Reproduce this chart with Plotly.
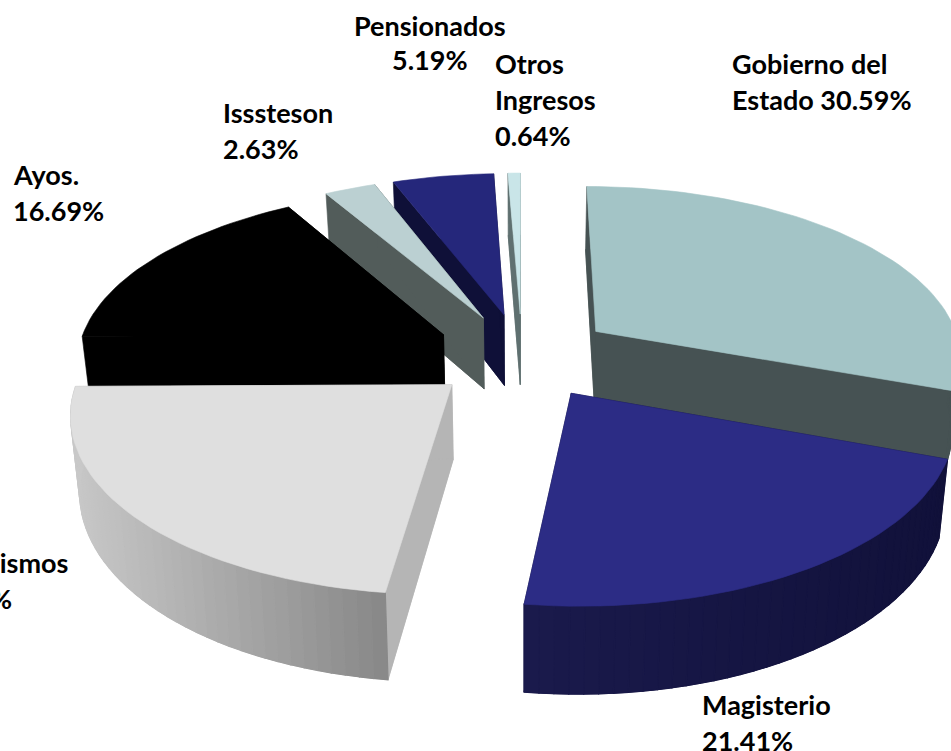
import math
import plotly.graph_objects as go

# --- data -----------------------------------------------------------------
categories = ["Gobierno del Estado", "Magisterio", "Organismos", "Ayos.",
              "Isssteson", "Pensionados", "Otros Ingresos"]
values = [30.59, 21.41, 22.85, 16.69, 2.63, 5.19, 0.64]

top_colors = ["#A3C4C6", "#2C2C85", "#DFDFDF", "#000000", "#BBD0D2", "#25277B", "#C9E5E8"]
wall_colors = ["#465253", "#141438", "#B5B5B5", "#000000", "#525C5A", "#0F1038", "#5F7070"]
# front wall gradient (left -> right), per slice
grad_left = ["#465253", "#1A1A4C", "#C8C8C8", "#000000", "#525C5A", "#0F1038", "#5F7070"]
grad_right = ["#465253", "#11113A", "#888888", "#000000", "#525C5A", "#0F1038", "#5F7070"]

# label lines: (slice index, line text template, anchor, x px, y px)
label_lines = [
    (0, "Gobierno del", "left", 730, 63),
    (0, "Estado {v:.2f}%", "left", 730, 99),
    (1, "Magisterio", "left", 700, 704),
    (1, "{v:.2f}%", "left", 700, 740),
    (2, "Organismos", "right", 70, 562),
    (2, "{v:.2f}%", "right", 14, 598),
    (3, "Ayos.", "left", 11, 174),
    (3, "{v:.2f}%", "left", 11, 210),
    (4, "Isssteson", "left", 221, 113),
    (4, "{v:.2f}%", "left", 221, 149),
    (5, "Pensionados", "center", 430, 26),
    (5, "{v:.2f}%", "center", 430, 59),
    (6, "Otros", "left", 493, 63),
    (6, "Ingresos", "left", 493, 99),
    (6, "{v:.2f}%", "left", 493, 135),
]

# --- projection parameters ------------------------------------------------
CX, CY, RX, RY = 522.0, 355.5, 367.0, 171.5
PERSP, EXPLODE, DEPTH, SHRINK = 0.14, 0.25, 73.0, 0.98
STEP_DEG = 2.0
FONT = "Lato"
FONT_SIZE = 27

total = sum(values)


def top_pt(X, F):
    w = 1 - PERSP * F
    return CX + RX * X / w, CY + RY * F / w


def bot_pt(X, F):
    w = 1 - PERSP * F
    x, y = top_pt(X, F)
    return CX + (x - CX) * SHRINK, y + DEPTH / w


def hex2rgb(h):
    return tuple(int(h[i:i + 2], 16) for i in (1, 3, 5))


def mix(a, b, t):
    ra, rb = hex2rgb(a), hex2rgb(b)
    t = max(0.0, min(1.0, t))
    return "rgb(%d,%d,%d)" % tuple(round(ra[i] + (rb[i] - ra[i]) * t) for i in range(3))


fig = go.Figure()


def poly(pts, color, name, width=0.6):
    xs = [p[0] for p in pts] + [pts[0][0]]
    ys = [p[1] for p in pts] + [pts[0][1]]
    fig.add_trace(go.Scatter(x=xs, y=ys, mode="lines", fill="toself", fillcolor=color,
                             line=dict(color=color, width=width), hoverinfo="skip",
                             showlegend=False, name=name))


# slice angles, clockwise from the back of the pie
starts, a = [], 0.0
for v in values:
    starts.append(a)
    a += v / total * 360.0

draw_order = [6, 5, 4, 0, 3, 2, 1]
for i in draw_order:
    a0 = starts[i]
    a1 = a0 + values[i] / total * 360.0
    mid = math.radians((a0 + a1) / 2)
    AX, AF = EXPLODE * math.sin(mid), -EXPLODE * math.cos(mid)
    n = max(2, int((a1 - a0) / STEP_DEG) + 1)
    angs = [a0 + (a1 - a0) * k / n for k in range(n + 1)]
    rim = [(AX + math.sin(math.radians(t)), AF - math.cos(math.radians(t))) for t in angs]
    name = categories[i]

    # underside and radial walls
    poly([bot_pt(AX, AF)] + [bot_pt(*p) for p in rim], wall_colors[i], name)
    for e in (rim[0], rim[-1]):
        poly([top_pt(AX, AF), top_pt(*e), bot_pt(*e), bot_pt(AX, AF)], wall_colors[i], name)

    # outer wall facing the viewer, with a left-to-right gradient
    xs_rim = [top_pt(*p)[0] for p in rim]
    lo, hi = min(xs_rim), max(xs_rim)
    for k in range(n):
        mid_ang = (angs[k] + angs[k + 1]) / 2
        if math.cos(math.radians(mid_ang)) > 0:
            continue
        p, q = rim[k], rim[k + 1]
        t = ((xs_rim[k] + xs_rim[k + 1]) / 2 - lo) / (hi - lo or 1)
        poly([top_pt(*p), top_pt(*q), bot_pt(*q), bot_pt(*p)],
             mix(grad_left[i], grad_right[i], t), name, width=1.2)

    # top face
    poly([top_pt(AX, AF)] + [top_pt(*p) for p in rim], top_colors[i], name)

annotations = []
for idx, tmpl, anchor, px, py in label_lines:
    annotations.append(dict(
        text="<b>%s</b>" % tmpl.format(v=values[idx]), showarrow=False,
        xref="paper", yref="paper", x=px / 951, y=1 - py / 751,
        xanchor=anchor, yanchor="middle",
        font=dict(family=FONT, size=FONT_SIZE, color="#000000")))

fig.update_layout(
    width=951, height=751, margin=dict(l=0, r=0, t=0, b=0),
    paper_bgcolor="white", plot_bgcolor="white", showlegend=False,
    xaxis=dict(range=[0, 951], visible=False, fixedrange=True),
    yaxis=dict(range=[751, 0], visible=False, fixedrange=True),
    annotations=annotations,
)
fig.write_html("out.html", config={"displayModeBar": False},
               post_script="document.body.style.margin='0';document.body.style.overflow='hidden';")
